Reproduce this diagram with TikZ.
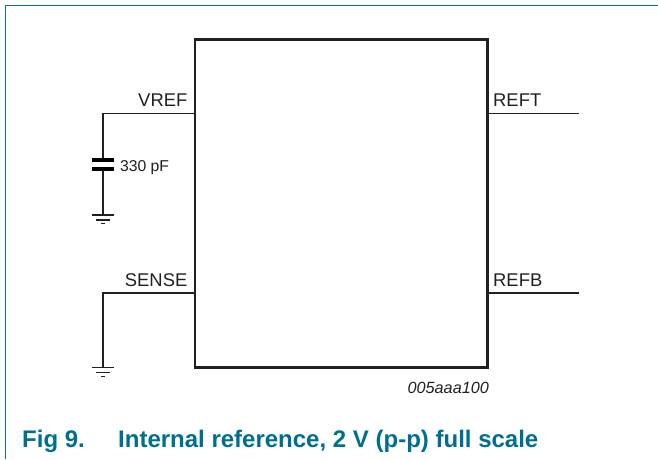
\documentclass[tikz,border=0pt]{standalone}
\usepackage{fontspec}
\setmainfont{Liberation Sans}
\definecolor{capteal}{HTML}{006F8F}
\definecolor{frameteal}{HTML}{007A96}
\definecolor{ink}{HTML}{231F20}
\tikzset{
  x=1pt,y=-1pt,
  wire/.style={draw=ink,line width=1.3pt},
  chip/.style={draw=ink,line width=2.6pt,outer sep=0pt,minimum width=292.5pt,minimum height=328pt,inner sep=0pt,anchor=north west},
  pin/.style={inner sep=0pt,text=ink,font=\fontsize{18.4}{20}\selectfont},
  small/.style={inner sep=0pt,text=ink,font=\fontsize{15.7}{18}\selectfont},
  title/.style={inner sep=0pt,anchor=base west,text=capteal,font=\fontsize{24}{26}\selectfont\bfseries},
  plate/.style={draw=black,line width=3.6pt},
  gnd/.style={draw=ink,line width=1.2pt}
}
\begin{document}
\begin{tikzpicture}
\useasboundingbox (0,0) rectangle (658,459);
\draw[frameteal,line width=1.5pt] (5.5,459) -- (5.5,5.5) -- (658,5.5);
\node[chip] (ic) at (195,39.3) {};
% pins
\coordinate (vrefpin) at (195,113.5);
\coordinate (refbpinl) at (195,293);
\coordinate (reftpin) at (487.5,113.5);
\coordinate (refbpin) at (487.5,293);
\coordinate (reftend) at (579,113.5);
\coordinate (refbend) at (579,293);
\coordinate (vcorner) at (103,113.5);
\coordinate (scorner) at (103,293);
\coordinate (captop) at (103,160);
\coordinate (capbot) at (103,168.7);
\coordinate (g1) at (103,215);
\coordinate (g2) at (103,367.5);
\draw[wire] (vrefpin) -- (vcorner) -- (captop);
\draw[wire] (capbot) -- (g1);
\draw[wire] (refbpinl) -- (scorner) -- (g2);
\draw[wire] (reftpin) -- (reftend);
\draw[wire] (refbpin) -- (refbend);
% capacitor
\draw[plate] (92.3,160) -- (113.7,160);
\draw[plate] (92.3,168.7) -- (113.7,168.7);
% grounds
\foreach \g in {g1,g2}{
  \draw[gnd] ([xshift=-10.7pt]\g) -- ([xshift=10.7pt]\g);
  \draw[gnd] ([xshift=-6.7pt,yshift=-5pt]\g) -- ([xshift=6.7pt,yshift=-5pt]\g);
  \draw[gnd] ([xshift=-2.3pt,yshift=-8.7pt]\g) -- ([xshift=2.3pt,yshift=-8.7pt]\g);
}
% labels
\node[pin,anchor=base east] (lvref) at (187.5,106.7) {VREF};
\node[pin,anchor=base east] (lsense) at (187.5,286) {SENSE};
\node[pin,anchor=base west] (lreft) at (493,106.7) {REFT};
\node[pin,anchor=base west] (lrefb) at (493,286) {REFB};
\node[small,anchor=base west] (lcap) at (120,171) {330 pF};
\node[small,anchor=base east] (lid) at (489,393.3) {\fontsize{16.2}{18}\selectfont\itshape 005aaa100};
\node[title] (fig) at (22,447) {Fig 9.};
\node[title] (cap) at (118,447) {Internal reference, 2 V (p-p) full scale};
\end{tikzpicture}
\end{document}
